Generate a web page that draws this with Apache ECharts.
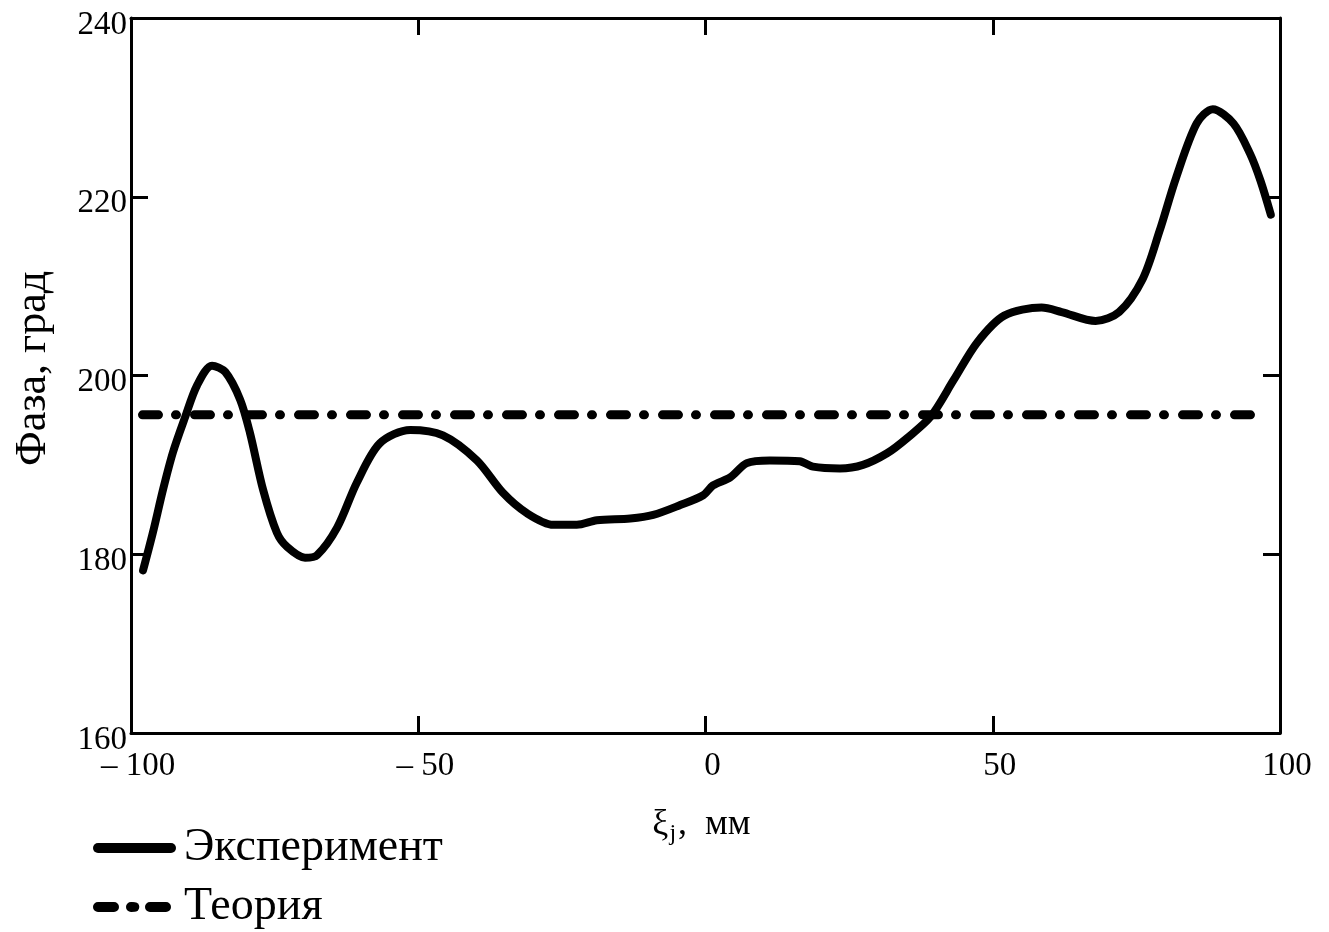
<!DOCTYPE html>
<html>
<head>
<meta charset="utf-8">
<script src="https://cdn.jsdelivr.net/npm/echarts@6/dist/echarts.min.js"></script>
<style>
  html, body { margin: 0; padding: 0; background: #fff; }
  #main { width: 1329px; height: 932px; }
</style>
</head>
<body>
<div id="main"></div>
<script>
"use strict";
// координаты по оси x, мм
var expX = [-97.9, -96.2, -94.4, -92.7, -90.6, -88.5, -85.9, -83.6, -81.0, -79.3,
            -77.0, -74.6, -72.8, -69.7, -67.6, -64.1, -60.7, -56.7, -51.4, -45.7,
            -39.8, -35.3, -31.1, -26.5, -22.4, -18.9, -13.1, -9.1, -4.4, -0.4,
            1.3, 4.3, 7.2, 11.2, 16.4, 18.7, 23.4, 27.4, 31.6, 35.1,
            39.2, 43.2, 47.3, 52.0, 58.5, 62.0, 67.9, 72.0, 76.1, 79.0,
            81.9, 85.5, 88.3, 91.9, 94.8, 96.6, 98.4];
// фаза, эксперимент
var expY = [178.2, 182.4, 187.3, 191.4, 195.3, 198.9, 201.1, 200.4, 197.3, 193.6,
            187.2, 182.4, 180.8, 179.6, 179.9, 183.0, 188.0, 192.4, 193.9, 193.3,
            190.5, 186.9, 184.6, 183.3, 183.3, 183.8, 184.0, 184.4, 185.5, 186.6,
            187.7, 188.6, 190.2, 190.5, 190.4, 189.8, 189.6, 190.0, 191.3, 193.0,
            195.4, 199.5, 203.7, 206.7, 207.6, 207.1, 206.1, 207.1, 210.8, 216.1,
            222.1, 228.2, 229.8, 228.2, 224.8, 221.8, 218.0];
// теория
var theoryX = [-98, 95];
var theoryY = [195.6, 195.6];

var xTicks = [-100, -50, 0, 50, 100];
var yTicks = [160, 180, 200, 220, 240];

function pairs(xs, ys) {
    var arr = [];
    for (var i = 0; i < xs.length; i++) {
        arr.push([xs[i], ys[i]]);
    }
    return arr;
}

var font = 'Liberation Serif';
var myChart = echarts.init(document.getElementById('main'));

var axisLine = {show: true, onZero: false, lineStyle: {color: '#000', width: 3}};
var axisTick = {show: true, inside: true, length: 17, lineStyle: {color: '#000', width: 3}};

var option = {
    backgroundColor: '#fff',
    animation: false,
    grid: {left: 131, right: 49, top: 18, bottom: 199, outerBoundsMode: 'none'},
    legend: {
        orient: 'vertical',
        left: 93,
        top: 825,
        padding: 0,
        itemWidth: 73,
        itemHeight: 12,
        itemGap: 13,
        lineStyle: {width: 10, cap: 'round'},
        textStyle: {fontFamily: font, fontSize: 46, color: '#000', lineHeight: 46, padding: [0, 0, 0, 8]},
        data: ['Эксперимент', 'Теория']
    },
    xAxis: [{
        type: 'value',
        position: 'bottom',
        min: xTicks[0],
        max: xTicks[xTicks.length - 1],
        interval: 50,
        axisLine: axisLine,
        axisTick: axisTick,
        splitLine: {show: false},
        axisLabel: {
            fontFamily: font, fontSize: 33, color: '#000', margin: 17,
            padding: [0, 0, 0, 14],
            formatter: function (v) { return v < 0 ? '– ' + Math.abs(v) : String(v); }
        },
        name: '{a|ξ}{s|j}{a|,  мм}',
        nameLocation: 'middle',
        nameGap: 72,
        nameTextStyle: {
            padding: [0, 8, 0, 0],
            rich: {
                a: {fontFamily: font, fontSize: 36, color: '#000', lineHeight: 40},
                s: {fontFamily: font, fontSize: 24, color: '#000', lineHeight: 40, padding: [18, 2, 0, 1]}
            }
        }
    }, {
        type: 'value',
        position: 'top',
        min: xTicks[0],
        max: xTicks[xTicks.length - 1],
        interval: 50,
        axisLine: axisLine,
        axisTick: axisTick,
        axisLabel: {show: false},
        splitLine: {show: false}
    }],
    yAxis: [{
        type: 'value',
        position: 'left',
        min: yTicks[0],
        max: yTicks[yTicks.length - 1],
        interval: 20,
        axisLine: axisLine,
        axisTick: axisTick,
        splitLine: {show: false},
        axisLabel: {fontFamily: font, fontSize: 33, color: '#000', margin: 4, verticalAlign: 'top', lineHeight: 14},
        name: 'Фаза, град',
        nameLocation: 'middle',
        nameRotate: 90,
        nameGap: 76,
        nameTextStyle: {fontFamily: font, fontSize: 44, color: '#000', padding: [0, 0, 0, 14]}
    }, {
        type: 'value',
        position: 'right',
        min: yTicks[0],
        max: yTicks[yTicks.length - 1],
        interval: 20,
        axisLine: axisLine,
        axisTick: axisTick,
        axisLabel: {show: false},
        splitLine: {show: false}
    }],
    series: [{
        name: 'Эксперимент',
        type: 'line',
        symbol: 'none',
        smooth: 0.3,
        lineStyle: {color: '#000', width: 8, cap: 'round', join: 'round'},
        itemStyle: {color: '#000'},
        data: pairs(expX, expY)
    }, {
        name: 'Теория',
        type: 'line',
        symbol: 'none',
        lineStyle: {color: '#000', width: 9, type: [16, 17, 1, 18], cap: 'round'},
        itemStyle: {color: '#000'},
        data: pairs(theoryX, theoryY)
    }]
};

myChart.setOption(option);
</script>
</body>
</html>
